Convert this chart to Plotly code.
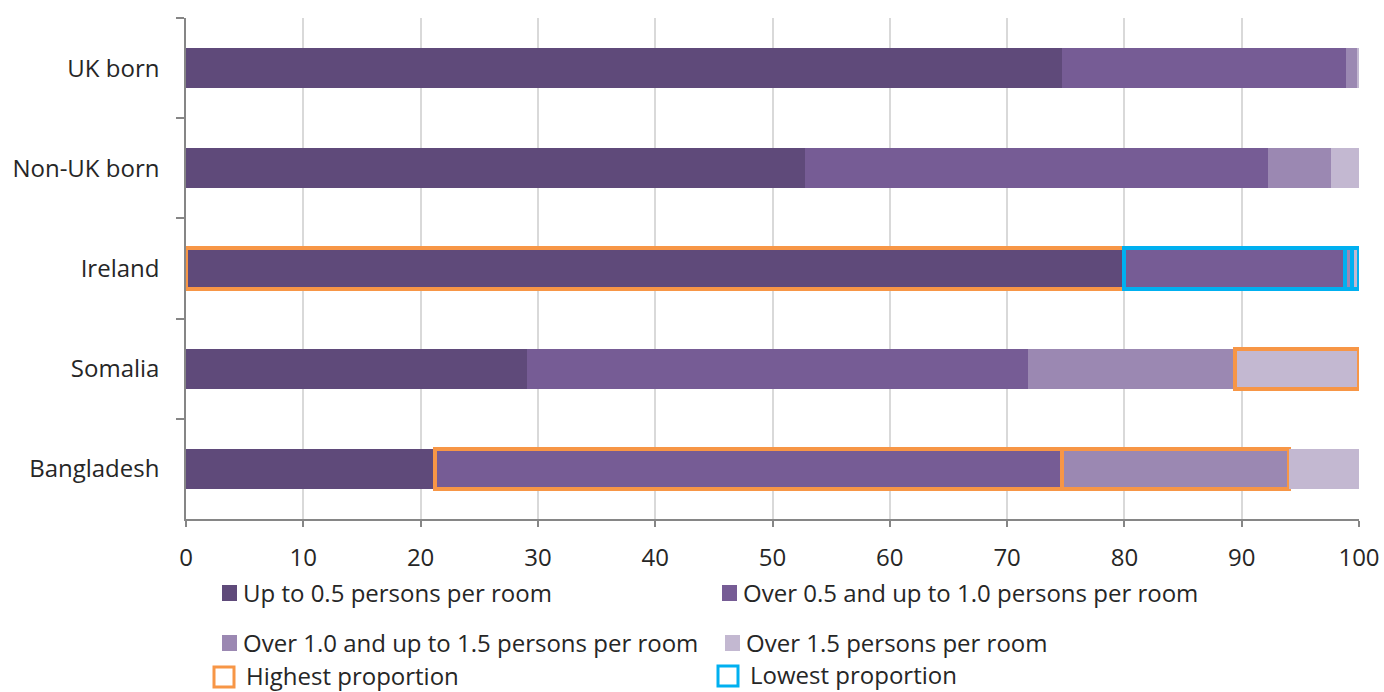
import plotly.graph_objects as go

categories = ["UK born", "Non-UK born", "Ireland", "Somalia", "Bangladesh"]
series_names = [
    "Up to 0.5 persons per room",
    "Over 0.5 and up to 1.0 persons per room",
    "Over 1.0 and up to 1.5 persons per room",
    "Over 1.5 persons per room",
]
up_to_05 = [74.7, 52.8, 80.0, 29.1, 21.2]
over_05_to_10 = [24.2, 39.4, 18.8, 42.7, 53.5]
over_10_to_15 = [0.9, 5.4, 0.6, 17.6, 19.3]
over_15 = [0.2, 2.4, 0.6, 10.6, 6.0]
# highlight flags per series: "H" highest, "L" lowest, "" none
flags_up_to_05 = ["", "", "H", "", ""]
flags_over_05_to_10 = ["", "", "L", "", "H"]
flags_over_10_to_15 = ["", "", "L", "", "H"]
flags_over_15 = ["", "", "L", "H", ""]
x_ticks = [0, 10, 20, 30, 40, 50, 60, 70, 80, 90, 100]
highlight_labels = ["Highest proportion", "Lowest proportion"]

colors = ["#5F4A7A", "#765C95", "#9B88B2", "#C3B8D1"]
ORANGE = "#F79646"
BLUE = "#00B0F0"
FONT = "Open Sans"
FS = 24
TXT = "#262626"

values = [up_to_05, over_05_to_10, over_10_to_15, over_15]
flags = [flags_up_to_05, flags_over_05_to_10, flags_over_10_to_15, flags_over_15]

fig = go.Figure()
for name, vals, col, fl in zip(series_names, values, colors, flags):
    lc = [ORANGE if f == "H" else (BLUE if f == "L" else col) for f in fl]
    lw = [4 if f else 0 for f in fl]
    fig.add_trace(go.Bar(
        y=categories, x=vals, name=name, orientation="h",
        marker=dict(color=col, line=dict(color=lc, width=lw)),
        showlegend=False,
    ))

W, H = 1384, 692
L, R, T, B = 186, 1359, 18, 519


def px(x):
    return (x - L) / (R - L)


def py(y):
    return (B - y) / (B - T)


shapes = []
annotations = []
# legend: series (filled squares)
legend_pos = [(222, 593), (722, 593), (222, 643), (725, 643)]
for (lx, ly), name, col in zip(legend_pos, series_names, colors):
    shapes.append(dict(type="rect", xref="paper", yref="paper",
                       x0=px(lx), x1=px(lx + 15), y0=py(ly + 8), y1=py(ly - 8),
                       fillcolor=col, line=dict(width=0)))
    annotations.append(dict(xref="paper", yref="paper", x=px(lx + 19), y=py(ly - 1),
                            text=name, showarrow=False, xanchor="left", yanchor="middle",
                            font=dict(family=FONT, size=FS, color=TXT)))
# legend: highlight boxes
hl_pos = [(214, 677, ORANGE), (718, 676, BLUE)]
for (lx, ly, col), name in zip(hl_pos, highlight_labels):
    shapes.append(dict(type="rect", xref="paper", yref="paper",
                       x0=px(lx), x1=px(lx + 20), y0=py(ly + 10), y1=py(ly - 10),
                       fillcolor="rgba(0,0,0,0)", line=dict(width=3, color=col)))
    annotations.append(dict(xref="paper", yref="paper", x=px(lx + 30), y=py(ly - 2),
                            text=name, showarrow=False, xanchor="left", yanchor="middle",
                            font=dict(family=FONT, size=FS, color=TXT)))

fig.update_layout(
    width=W, height=H, autosize=False,
    margin=dict(l=L, r=W - R, t=T, b=H - B, pad=0, autoexpand=False),
    barmode="stack", bargap=0.6,
    plot_bgcolor="white", paper_bgcolor="white",
    font=dict(family=FONT, size=FS, color=TXT),
    shapes=shapes, annotations=annotations,
    xaxis=dict(range=[0, 100], tickvals=x_ticks, ticktext=[str(v) for v in x_ticks],
               showgrid=True, gridcolor="#D9D9D9", gridwidth=2,
               showline=True, linecolor="#868686", linewidth=1.5,
               ticks="outside", ticklen=6, tickcolor="#868686", tickwidth=1.5,
               ticklabelstandoff=10, automargin=False,
               zeroline=False, tickfont=dict(family=FONT, size=FS, color=TXT)),
    yaxis=dict(categoryorder="array", categoryarray=categories, autorange="reversed",
               showline=True, linecolor="#868686", linewidth=1.5,
               ticks="outside", ticklen=8, tickcolor="#868686", tickwidth=1.5,
               tickson="boundaries", showgrid=False, ticklabelstandoff=20,
               automargin=False,
               tickfont=dict(family=FONT, size=FS, color=TXT)),
)

fig.write_html(
    "out.html",
    config={"responsive": False, "displayModeBar": False},
    post_script="document.body.style.margin='0px';document.body.style.padding='0px';document.body.style.overflow='hidden';",
)
